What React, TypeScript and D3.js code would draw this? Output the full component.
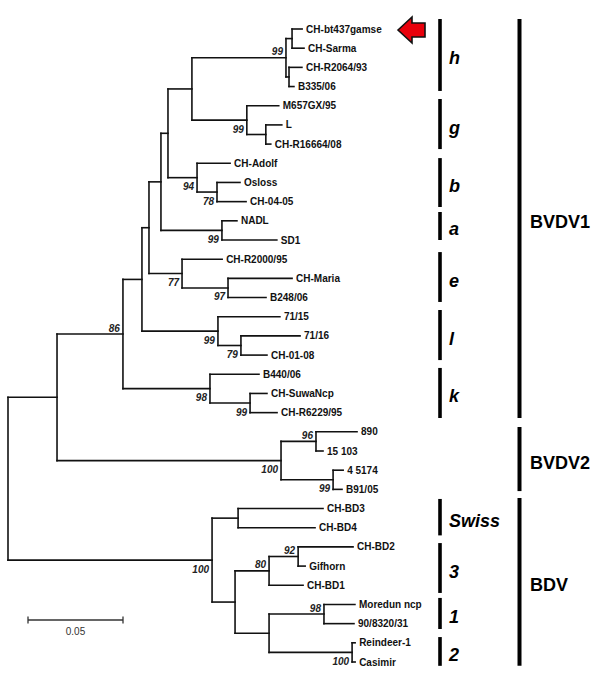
import React from "react";
import * as d3 from "d3";

// [node, parent, branch length (substitutions/site)] in top-to-bottom order
const edges: [string, string | null, number][] = [
  ["root", null, 0],
  ["nBV", "root", 0.0258],
  ["n86", "nBV", 0.0347],
  ["nX3", "n86", 0.01],
  ["nX2", "nX3", 0.0037],
  ["nX1", "nX2", 0.0063],
  ["nHGB", "nX1", 0.0037],
  ["nHG", "nHGB", 0.0126],
  ["nH", "nHG", 0.0495],
  ["nH1", "nH", 0.0032],
  ["CH-bt437gamse", "nH1", 0.0053],
  ["CH-Sarma", "nH1", 0.0063],
  ["nH2", "nH", 0.0016],
  ["CH-R2064/93", "nH2", 0.0068],
  ["B335/06", "nH2", 0.0026],
  ["nG", "nHG", 0.0289],
  ["M657GX/95", "nG", 0.0168],
  ["nG1", "nG", 0.01],
  ["L", "nG1", 0.0084],
  ["CH-R16664/08", "nG1", 0.0026],
  ["nB", "nHGB", 0.0153],
  ["CH-Adolf", "nB", 0.0174],
  ["nB1", "nB", 0.0105],
  ["Osloss", "nB1", 0.0121],
  ["CH-04-05", "nB1", 0.0153],
  ["nA", "nX1", 0.0321],
  ["NADL", "nA", 0.0079],
  ["SD1", "nA", 0.0289],
  ["nE", "nX2", 0.0174],
  ["CH-R2000/95", "nE", 0.0211],
  ["nE1", "nE", 0.0242],
  ["CH-Maria", "nE1", 0.0337],
  ["B248/06", "nE1", 0.02],
  ["nL", "nX3", 0.04],
  ["71/15", "nL", 0.0326],
  ["nL1", "nL", 0.0121],
  ["71/16", "nL1", 0.0311],
  ["CH-01-08", "nL1", 0.0137],
  ["nK", "n86", 0.0458],
  ["B440/06", "nK", 0.0258],
  ["nK1", "nK", 0.0211],
  ["CH-SuwaNcp", "nK1", 0.0089],
  ["CH-R6229/95", "nK1", 0.0142],
  ["nBVDV2", "nBV", 0.1179],
  ["n2a", "nBVDV2", 0.0184],
  ["890", "n2a", 0.0216],
  ["15 103", "n2a", 0.0037],
  ["n2b", "nBVDV2", 0.0274],
  ["4 5174", "n2b", 0.0053],
  ["B91/05", "n2b", 0.0047],
  ["nBDV", "root", 0.1074],
  ["nSwiss", "nBDV", 0.0137],
  ["CH-BD3", "nSwiss", 0.0447],
  ["CH-BD4", "nSwiss", 0.0405],
  ["nY", "nBDV", 0.0121],
  ["n3", "nY", 0.0179],
  ["n3a", "n3", 0.0153],
  ["CH-BD2", "n3a", 0.0289],
  ["Gifhorn", "n3a", 0.0037],
  ["CH-BD1", "n3", 0.0179],
  ["n12", "nY", 0.0179],
  ["n1", "n12", 0.0289],
  ["Moredun ncp", "n1", 0.0163],
  ["90/8320/31", "n1", 0.0158],
  ["n2", "n12", 0.0437],
  ["Reindeer-1", "n2", 0.0016],
  ["Casimir", "n2", 0.0016],
];

// [node, bootstrap %, label above the branch?]
const bootstrap: [string, number, boolean][] = [
  ["n86", 86, true],
  ["nH", 99, true],
  ["nG", 99, false],
  ["nB", 94, false],
  ["nB1", 78, false],
  ["nA", 99, false],
  ["nE", 77, false],
  ["nE1", 97, false],
  ["nL", 99, false],
  ["nL1", 79, false],
  ["nK", 98, false],
  ["nK1", 99, false],
  ["nBVDV2", 100, false],
  ["n2a", 96, true],
  ["n2b", 99, false],
  ["nBDV", 100, false],
  ["n3", 80, true],
  ["n3a", 92, true],
  ["n1", 98, true],
  ["n2", 100, false],
];

// subgroup brackets, spans in leaf-row units
const subgroupNames = ["h", "g", "b", "a", "e", "l", "k", "Swiss", "3", "1", "2"];
const subgroupSpans: [number, number][] = [
  [-0.52, 3.23], [3.65, 6.26], [6.73, 9.28], [9.54, 11.0], [11.63, 14.23],
  [14.65, 17.26], [17.67, 20.28], [24.5, 26.4], [26.8, 29.4], [29.66, 31.28], [31.7, 33.2],
];
const speciesNames = ["BVDV1", "BVDV2", "BDV"];
const speciesSpans: [number, number][] = [[-0.52, 20.28], [20.75, 24.09], [24.45, 33.2]];

const highlighted = "CH-bt437gamse";
const scaleBarValue = 0.05;
const scaleBarLabel = "0.05";

const FONT = "'Liberation Sans', Arial, sans-serif";

export default function App() {
  const root = d3
    .stratify<[string, string | null, number]>()
    .id((d) => d[0])
    .parentId((d) => d[1])(edges) as any;

  const leaves = root.leaves();
  const x = d3.scaleLinear().domain([0, 0.05]).range([8, 103]);
  const y = d3.scaleLinear().domain([0, leaves.length - 1]).range([29, 662]);

  root.eachBefore((n: any) => {
    n.dist = (n.parent ? n.parent.dist : 0) + n.data[2];
    n.px = x(n.dist);
  });
  leaves.forEach((l: any, i: number) => (l.py = y(i)));
  root.eachAfter((n: any) => {
    if (n.children) {
      n.py = (n.children[0].py + n.children[n.children.length - 1].py) / 2;
    }
  });

  const nodes: any[] = root.descendants();
  const byId = new Map(nodes.map((n) => [n.id, n]));
  const stroke = "#111";
  const lw = 1.6;

  const hl: any = byId.get(highlighted);
  const ax = 398;
  const ay = hl.py + 1;

  return (
    <svg width={600} height={692} style={{ position: "absolute", left: 0, top: 0, background: "#fff" }}>
      <rect width={600} height={692} fill="#fff" />
      {/* tree branches */}
      <g stroke={stroke} strokeWidth={lw} fill="none" strokeLinecap="square">
        {nodes.filter((n) => n.children).map((n) => (
          <line key={"v" + n.id} x1={n.px} x2={n.px}
            y1={n.children[0].py} y2={n.children[n.children.length - 1].py} />
        ))}
        {nodes.filter((n) => n.parent).map((n) => (
          <line key={"h" + n.id} x1={n.parent.px} x2={n.px} y1={n.py} y2={n.py} />
        ))}
      </g>
      {/* leaf labels */}
      <g fontFamily={FONT} fontWeight="bold" fontSize={10} fill="#111">
        {leaves.map((l: any) => (
          <text key={"t" + l.id} x={l.px + 4} y={l.py} dy="0.35em">{l.id}</text>
        ))}
      </g>
      {/* bootstrap values */}
      <g fontFamily={FONT} fontWeight="bold" fontStyle="italic" fontSize={10} fill="#222" textAnchor="end">
        {bootstrap.map(([id, v, above]) => {
          const n: any = byId.get(id);
          return (
            <text key={"b" + id} x={n.px - 3} y={above ? n.py - 2.5 : n.py + 12.5}>{v}</text>
          );
        })}
      </g>
      {/* arrow */}
      <path
        d={`M${ax},${ay} L${ax + 14},${ay - 13} L${ax + 14},${ay - 7} L${ax + 27},${ay - 7} L${ax + 27},${ay + 7} L${ax + 14},${ay + 7} L${ax + 14},${ay + 13} Z`}
        fill="#e8000b" stroke="#111" strokeWidth={1.6} strokeLinejoin="miter"
      />
      {/* subgroup brackets */}
      <g>
        {subgroupNames.map((name, i) => {
          const [a, b] = subgroupSpans[i];
          const y0 = y(a), y1 = y(b);
          return (
            <g key={"sg" + name}>
              <line x1={440} x2={440} y1={y0} y2={y1} stroke="#000" strokeWidth={3.6} />
              <text x={449} y={(y0 + y1) / 2 + 9.5} fontFamily={FONT} fontWeight="bold"
                fontStyle="italic" fontSize={18} fill="#000">{name}</text>
            </g>
          );
        })}
        {speciesNames.map((name, i) => {
          const [a, b] = speciesSpans[i];
          const y0 = y(a), y1 = y(b);
          return (
            <g key={"sp" + name}>
              <line x1={519.5} x2={519.5} y1={y0} y2={y1} stroke="#000" strokeWidth={4} />
              <text x={530} y={(y0 + y1) / 2 + 9.5} fontFamily={FONT} fontWeight="bold"
                fontSize={18} fill="#000">{name}</text>
            </g>
          );
        })}
      </g>
      {/* scale bar */}
      <g stroke="#333" strokeWidth={1.3}>
        <line x1={28} x2={28 + x(scaleBarValue) - x(0)} y1={620} y2={620} />
        <line x1={28} x2={28} y1={616.5} y2={623.5} />
        <line x1={28 + x(scaleBarValue) - x(0)} x2={28 + x(scaleBarValue) - x(0)} y1={616.5} y2={623.5} />
      </g>
      <text x={28 + (x(scaleBarValue) - x(0)) / 2} y={635} textAnchor="middle" fontFamily={FONT}
        fontSize={10} fill="#333">{scaleBarLabel}</text>
    </svg>
  );
}
